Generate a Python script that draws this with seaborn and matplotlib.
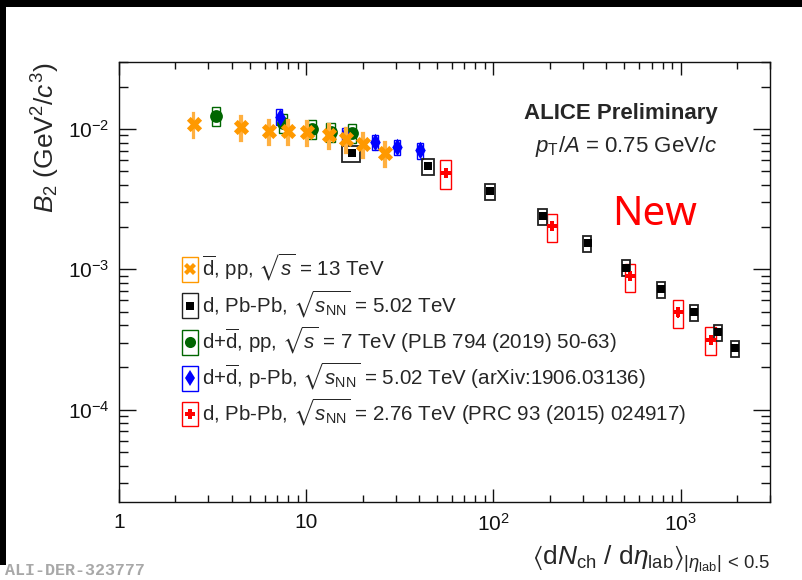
import numpy as np
import pandas as pd
import matplotlib
matplotlib.use("Agg")
import matplotlib.pyplot as plt
import seaborn as sns
from matplotlib.patches import Rectangle
from matplotlib.ticker import FixedLocator, FixedFormatter, LogLocator, NullFormatter

# ---------------- data ----------------
pp13_x = [2.5, 4.5, 6.3, 8.0, 10.1, 13.2, 16.3, 20.1, 26.2]
pp13_y = [0.01086, 0.01033, 0.00968, 0.00968, 0.00952, 0.00906, 0.00848, 0.00782, 0.00674]
pp13_sys = [0.20] * 9
pp13_xsys = [0.012] * 9

pbpb502_x = [17.5, 44.9, 96.3, 183, 318, 512, 786, 1180, 1587, 1943]
pbpb502_y = [0.00674, 0.00544, 0.00361, 0.00239, 0.00153, 0.00103, 0.000720, 0.000493, 0.000355, 0.000273]
pbpb502_sys = [0.13] * 10
pbpb502_xsys = [0.11, 0.075, 0.063, 0.05, 0.05, 0.05, 0.05, 0.05, 0.05, 0.05]
pbpb502_stat = [0.04] * 10

pp7_x = [3.3, 7.5, 10.8, 13.5, 17.5]
pp7_y = [0.01238, 0.01104, 0.01000, 0.00952, 0.00936]
pp7_sys = [0.15] * 5
pp7_xsys = [0.05] * 5

ppb_x = [7.2, 16.1, 23.2, 30.5, 40.6]
ppb_y = [0.01218, 0.00906, 0.00808, 0.00744, 0.00708]
ppb_sys = [0.13] * 5
ppb_xsys = [0.037] * 5
ppb_stat = [0.06] * 5

pbpb276_x = [55.5, 205, 537, 966, 1447]
pbpb276_y = [0.00485, 0.00203, 0.000891, 0.000493, 0.000316]
pbpb276_sys = [0.23] * 5
pbpb276_xsys = [0.063] * 5
pbpb276_stat = [0.08] * 5

x_ticks = [1, 10, 100, 1000]
x_ticklabels = ["1", "10", r"$10^{2}$", r"$10^{3}$"]
y_ticks = [1e-4, 1e-3, 1e-2]
y_ticklabels = [r"$10^{-4}$", r"$10^{-3}$", r"$10^{-2}$"]

legend_labels = [
    r"$\overline{\mathrm{d}}$, pp, $\sqrt{s}$ = 13 TeV",
    r"d, Pb-Pb, $\sqrt{s_{\mathrm{NN}}}$ = 5.02 TeV",
    r"d+$\overline{\mathrm{d}}$, pp, $\sqrt{s}$ = 7 TeV (PLB 794 (2019) 50-63)",
    r"d+$\overline{\mathrm{d}}$, p-Pb, $\sqrt{s_{\mathrm{NN}}}$ = 5.02 TeV (arXiv:1906.03136)",
    r"d, Pb-Pb, $\sqrt{s_{\mathrm{NN}}}$ = 2.76 TeV (PRC 93 (2015) 024917)",
]

# ---------------- style ----------------
sns.set_style("ticks")
plt.rcParams["font.family"] = ["Liberation Sans", "DejaVu Sans"]
plt.rcParams["mathtext.fontset"] = "custom"
plt.rcParams["mathtext.rm"] = "Liberation Sans"
plt.rcParams["mathtext.it"] = "Liberation Sans:italic"
plt.rcParams["mathtext.bf"] = "Liberation Sans:bold"
plt.rcParams["mathtext.sf"] = "Liberation Sans"
plt.rcParams["mathtext.fallback"] = "stixsans"

ORANGE = "#FF9900"
GREEN = "#006600"
BLUE = "#0000FF"
RED = "#FF0000"
BLACK = "#000000"

fig = plt.figure(figsize=(8.02, 5.8), dpi=100)
fig.patch.set_facecolor("white")
ax = fig.add_axes([119 / 802, 78 / 580, 651 / 802, 440 / 580])
ax.set_xscale("log")
ax.set_yscale("log")
ax.set_xlim(1, 3000)
ax.set_ylim(2.2e-5, 3.0e-2)


def sys_boxes(xs, ys, rel, xrel, color, lw=1.0, z=2):
    for x, y, r, xr in zip(xs, ys, rel, xrel):
        ax.add_patch(Rectangle((x * (1 - xr), y * (1 - r)), 2 * xr * x, 2 * r * y,
                               fill=False, edgecolor=color, lw=lw, zorder=z))


def stat_bars(xs, ys, rel, color, z=3):
    y = np.array(ys)
    ax.errorbar(xs, ys, yerr=[y * np.array(rel), y * np.array(rel)], fmt="none",
                ecolor=color, elinewidth=1.5, capsize=0, zorder=z)


# pp 7 TeV
sys_boxes(pp7_x, pp7_y, pp7_sys, pp7_xsys, GREEN, z=2)
sns.scatterplot(x=pp7_x, y=pp7_y, marker="o", s=85, color=GREEN, edgecolor=GREEN,
                linewidth=0, ax=ax, zorder=3, legend=False)
# p-Pb
sys_boxes(ppb_x, ppb_y, ppb_sys, ppb_xsys, BLUE, z=2)
stat_bars(ppb_x, ppb_y, ppb_stat, BLUE)
sns.scatterplot(x=ppb_x, y=ppb_y, marker="d", s=80, color=BLUE, edgecolor=BLUE,
                linewidth=0, ax=ax, zorder=3, legend=False)
# Pb-Pb 2.76
sys_boxes(pbpb276_x, pbpb276_y, pbpb276_sys, pbpb276_xsys, RED, z=4)
stat_bars(pbpb276_x, pbpb276_y, pbpb276_stat, RED, z=5)
sns.scatterplot(x=pbpb276_x, y=pbpb276_y, marker="P", s=55, color=RED, edgecolor=RED,
                linewidth=0, ax=ax, zorder=5, legend=False)
# Pb-Pb 5.02
sys_boxes(pbpb502_x, pbpb502_y, pbpb502_sys, pbpb502_xsys, "#222222", lw=1.3, z=4)
stat_bars(pbpb502_x, pbpb502_y, pbpb502_stat, BLACK, z=5)
sns.scatterplot(x=pbpb502_x, y=pbpb502_y, marker="s", s=32, color=BLACK, edgecolor=BLACK,
                linewidth=0, ax=ax, zorder=5, legend=False)
# pp 13 TeV
sys_boxes(pp13_x, pp13_y, pp13_sys, pp13_xsys, "#FFB040", lw=1.6, z=6)
sns.scatterplot(x=pp13_x, y=pp13_y, marker="X", s=120, color=ORANGE, edgecolor=ORANGE,
                linewidth=0, ax=ax, zorder=7, legend=False)

# ---------------- axes ----------------
ax.xaxis.set_major_locator(FixedLocator(x_ticks))
ax.xaxis.set_major_formatter(FixedFormatter(x_ticklabels))
ax.xaxis.set_minor_locator(LogLocator(base=10, subs=np.arange(2, 10), numticks=20))
ax.xaxis.set_minor_formatter(NullFormatter())
ax.yaxis.set_major_locator(FixedLocator(y_ticks))
ax.yaxis.set_major_formatter(FixedFormatter(y_ticklabels))
ax.yaxis.set_minor_locator(LogLocator(base=10, subs=np.arange(2, 10), numticks=20))
ax.yaxis.set_minor_formatter(NullFormatter())

ax.tick_params(axis="both", which="both", direction="in", top=True, right=True,
               colors="#111111", width=1.0, labelsize=15)
ax.tick_params(axis="x", which="major", length=9.5, pad=8)
ax.tick_params(axis="x", which="minor", length=5)
ax.tick_params(axis="y", which="major", length=12, pad=7)
ax.tick_params(axis="y", which="minor", length=6.5)
for sp in ax.spines.values():
    sp.set_linewidth(1.0)
    sp.set_color("#111111")
ax.set_xlabel("")
ax.set_ylabel("")

ax.text(-0.112, 1.0, r"$B_{2}$ (GeV$^{2}$/$c^{3}$)", rotation=90, ha="center", va="top",
        fontsize=19, transform=ax.transAxes)
ax.text(1.0, -0.13,
        r"$\langle\mathrm{d}N_{\mathrm{ch}}\ /\ \mathrm{d}\eta_{\mathrm{lab}}\rangle_{|\eta_{\mathrm{lab}}|\,<\,0.5}$",
        ha="right", va="center", fontsize=19, transform=ax.transAxes)

ax.text(0.920, 0.882, "ALICE Preliminary", ha="right", va="center", fontsize=16,
        fontweight="bold", transform=ax.transAxes)
ax.text(0.920, 0.7955, r"$p_{\mathrm{T}}/A$ = 0.75 GeV/$c$", ha="right", va="baseline",
        fontsize=16, transform=ax.transAxes)
ax.text(0.822, 0.652, "New", ha="center", va="center", fontsize=29, color=RED,
        family=["Noto Sans", "DejaVu Sans"], transform=ax.transAxes)

# ---------------- legend (drawn manually) ----------------
leg_colors = [ORANGE, "#222222", GREEN, BLUE, RED]
leg_mcolors = [ORANGE, BLACK, GREEN, BLUE, RED]
leg_markers = ["X", "s", "o", "d", "P"]
leg_msizes = [8.5, 5.5, 8, 8, 7]
leg_rows = [0.5295, 0.4455, 0.3636, 0.2818, 0.200]
bx, bw, bh = 0.0968, 0.0246, 0.0568
for lab, ec, mc, mk, ms, yc in zip(legend_labels, leg_colors, leg_mcolors, leg_markers,
                                    leg_msizes, leg_rows):
    ax.add_patch(Rectangle((bx, yc - bh / 2), bw, bh, transform=ax.transAxes, fill=False,
                           edgecolor=ec, lw=1.0, zorder=8, clip_on=False))
    ax.plot([bx + bw / 2], [yc], transform=ax.transAxes, marker=mk, markersize=ms,
            color=mc, markeredgewidth=0, linestyle="none", zorder=9, clip_on=False)
    ax.text(bx + bw + 0.006, yc - 0.016, lab, ha="left", va="baseline", fontsize=14.8,
            transform=ax.transAxes, zorder=9)

# ---------------- frame decorations ----------------
fig.add_artist(Rectangle((0, 1 - 7 / 580), 1, 7 / 580, transform=fig.transFigure,
                         facecolor="black", edgecolor="none"))
fig.add_artist(Rectangle((0, 1 - 565 / 580), 6 / 802, 565 / 580, transform=fig.transFigure,
                         facecolor="black", edgecolor="none"))
fig.text(5 / 802, 2 / 580, "ALI-DER-323777", ha="left", va="bottom", fontsize=12,
         family=["Liberation Mono", "DejaVu Sans Mono"], fontweight="bold", color="#a8a8a8")

fig.savefig("out.png", dpi=100)
